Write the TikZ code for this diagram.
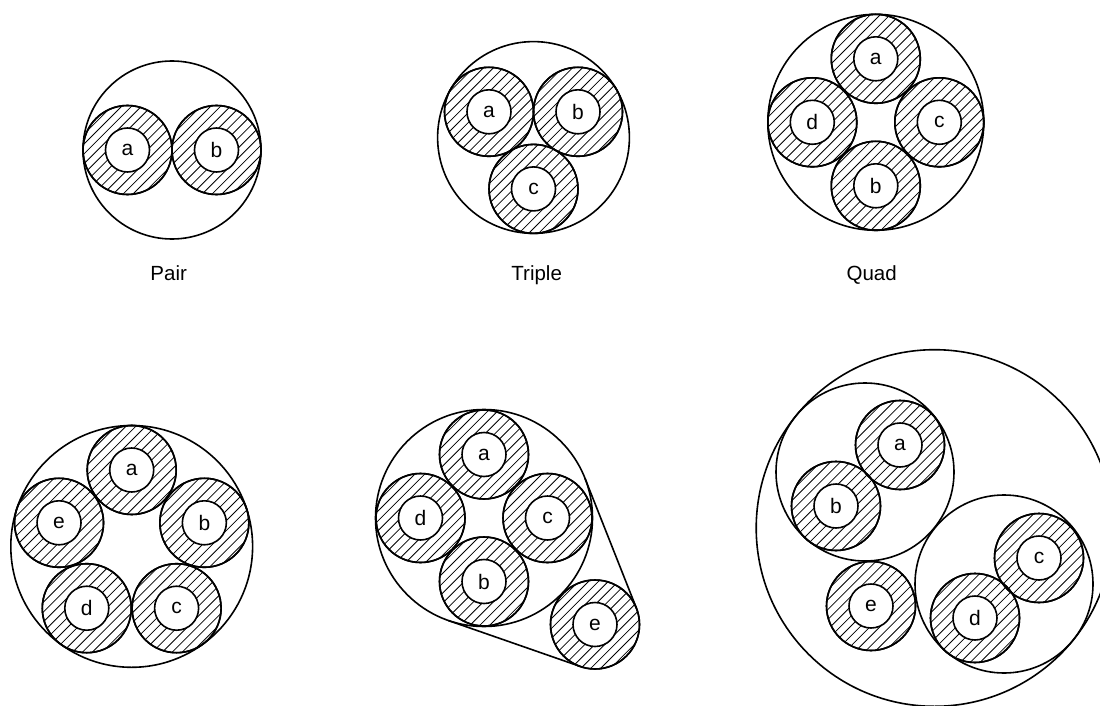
\documentclass[tikz,border=0pt]{standalone}
\usepackage{fontspec}
\setmainfont{Liberation Sans}
\usetikzlibrary{calc}
\tikzset{
  ring/.style={circle, draw, line width=1.6pt, minimum size=89pt, inner sep=0pt},
  core/.style={circle, draw, line width=1.6pt, fill=white, minimum size=44pt, inner sep=0pt,
    font=\fontsize{21}{25}\selectfont},
  jacket/.style={circle, draw, line width=1.6pt, inner sep=0pt},
  hull/.style={line width=1.6pt},
  hatch/.style={line width=0.8pt},
  caption/.style={anchor=base, font=\fontsize{20.5}{24}\selectfont},
}
\newcommand\mycable[3]{%
  \node[ring] (#1) at #2 {};
  \begin{scope}
    \clip (#1.center) circle[radius=44.5pt];
    \foreach \s in {-49,-42,...,49}
      \draw[hatch] ($(#1.center)+(-45:\s pt)+(45:50pt)$) -- ($(#1.center)+(-45:\s pt)+(225:50pt)$);
  \end{scope}
  \node[ring] at (#1) {};
  \node[core] (#1-core) at (#1) {#3};}
\begin{document}
\begin{tikzpicture}[x=1pt,y=-1pt]
\useasboundingbox (0,0) rectangle (1100,706);
\fill[white] (0,0) rectangle (1100,706);

% Pair
\node[jacket, minimum size=178pt] (P) at (172,150) {};
\mycable{P-a}{(127.5,150)}{a}
\mycable{P-b}{(216.5,150)}{b}
\node[caption] (P-cap) at (168.7,280) {Pair};

% Triple
\node[jacket, minimum size=191.8pt] (T) at (533.5,137.5) {};
\mycable{T-a}{($(T)+(150:51.4pt)$)}{a}
\mycable{T-b}{($(T)+(30:51.4pt)$)}{b}
\mycable{T-c}{($(T)+(270:51.4pt)$)}{c}
\node[caption] (T-cap) at (536.7,280) {Triple};

% Quad
\node[jacket, minimum size=216pt] (Q) at (875.8,122.3) {};
\mycable{Q-a}{($(Q)+(90:63.5pt)$)}{a}
\mycable{Q-b}{($(Q)+(270:63.5pt)$)}{b}
\mycable{Q-c}{($(Q)+(0:63.5pt)$)}{c}
\mycable{Q-d}{($(Q)+(180:63.5pt)$)}{d}
\node[caption] (Q-cap) at (871.7,280) {Quad};

% Five
\node[jacket, minimum size=241.8pt] (F) at (131.7,546.4) {};
\mycable{F-a}{($(F)+(90:76.4pt)$)}{a}
\mycable{F-b}{($(F)+(18:76.4pt)$)}{b}
\mycable{F-c}{($(F)+(-54:76.4pt)$)}{c}
\mycable{F-d}{($(F)+(234:76.4pt)$)}{d}
\mycable{F-e}{($(F)+(162:76.4pt)$)}{e}

% Quad plus one
\node[jacket, minimum size=217pt] (M) at (484,518) {};
\coordinate (M-t1) at (584.9,478.1);
\coordinate (M-t2) at (448.3,620.5);
\coordinate (M-e-t1) at (636.4,608.1);
\coordinate (M-e-t2) at (580.4,666.5);
\mycable{M-a}{($(M)+(90:63.5pt)$)}{a}
\mycable{M-b}{($(M)+(270:63.5pt)$)}{b}
\mycable{M-c}{($(M)+(0:63.5pt)$)}{c}
\mycable{M-d}{($(M)+(180:63.5pt)$)}{d}
\mycable{M-e}{(595,624.5)}{e}
\draw[hull] (M-t1) -- (M-e-t1);
\draw[hull] (M-t2) -- (M-e-t2);

% Two pairs plus one
\node[jacket, minimum size=356.6pt] (B) at (934.5,528) {};
\node[jacket, minimum size=178pt] (U) at (865,472) {};
\node[jacket, minimum size=178pt] (L) at (1004,584) {};
\mycable{B-a}{(900,445)}{a}
\mycable{B-b}{(836,506)}{b}
\mycable{B-c}{(1039,558)}{c}
\mycable{B-d}{(975,618)}{d}
\mycable{B-e}{(871,606)}{e}
\end{tikzpicture}
\end{document}
